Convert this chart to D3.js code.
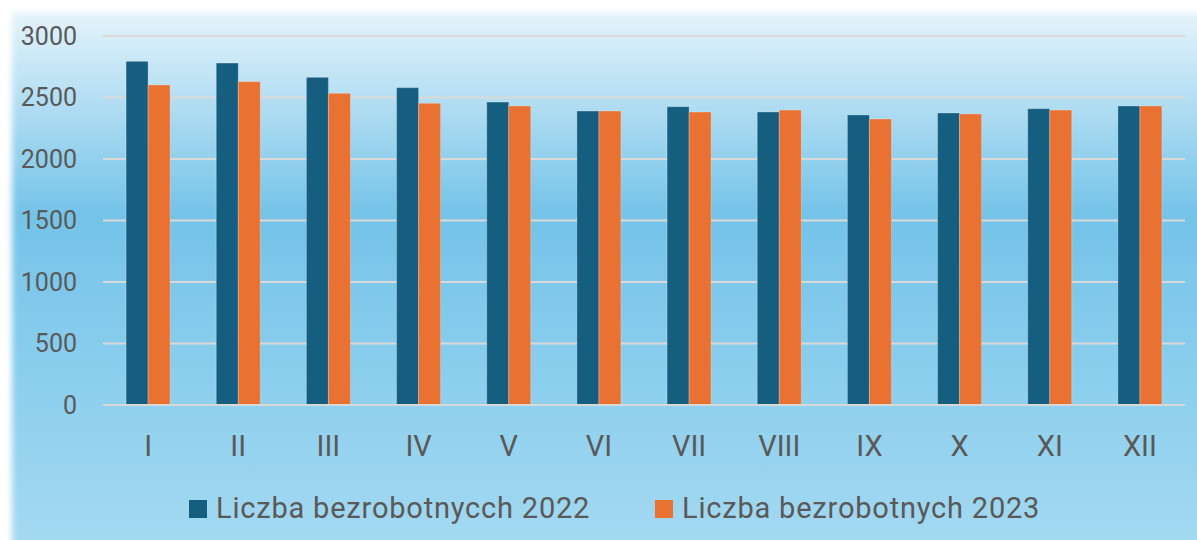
<!DOCTYPE html>
<html lang="pl">
<head>
<meta charset="UTF-8">
<title>Liczba bezrobotnych</title>
<script src="https://d3js.org/d3.v7.min.js"></script>
<style>
  body { margin: 0; background: #fff; }
  svg { display: block; font-family: Roboto, "Open Sans", sans-serif; }
</style>
</head>
<body>
<svg class="chart" width="1197" height="540"></svg>
<script>
  // dane
  const months = ['I', 'II', 'III', 'IV', 'V', 'VI', 'VII', 'VIII', 'IX', 'X', 'XI', 'XII']
  const values2022 = [2794, 2780, 2664, 2580, 2463, 2390, 2425, 2382, 2358, 2374, 2409, 2431]
  const values2023 = [2602, 2629, 2534, 2453, 2431, 2390, 2382, 2398, 2325, 2366, 2398, 2431]
  const seriesNames = ['Liczba bezrobotnycch 2022', 'Liczba bezrobotnych 2023']
  const yTicks = [0, 500, 1000, 1500, 2000, 2500, 3000]

  const svg = d3.select('.chart')
  const width = +svg.attr('width')
  const height = +svg.attr('height')
  const margin = { top: 36, right: 12, bottom: 135, left: 103 }
  const colors = ['#165e80', '#e97132']

  // tło z gradientem
  const defs = svg.append('defs')
  const grad = defs.append('linearGradient')
    .attr('id', 'bg').attr('x1', 0).attr('y1', 0).attr('x2', 0).attr('y2', 1)
  grad.append('stop').attr('offset', '0%').attr('stop-color', '#e4f3fb')
  grad.append('stop').attr('offset', '36%').attr('stop-color', '#74c3e8')
  grad.append('stop').attr('offset', '70%').attr('stop-color', '#8fd0ee')
  grad.append('stop').attr('offset', '100%').attr('stop-color', '#a9dbf2')
  defs.append('filter').attr('id', 'soft')
    .attr('x', '-5%').attr('y', '-5%').attr('width', '110%').attr('height', '110%')
    .append('feGaussianBlur').attr('stdDeviation', 3)

  svg.append('rect')
    .attr('x', 12).attr('y', 13)
    .attr('width', width + 20).attr('height', height + 20)
    .attr('fill', 'url(#bg)')
    .attr('filter', 'url(#soft)')

  const x0 = d3.scaleBand()
    .domain(months)
    .range([margin.left, width - margin.right])
    .paddingInner(0.512)
    .paddingOuter(0.256)

  const x1 = d3.scaleBand()
    .domain([0, 1])
    .range([0, x0.bandwidth()])

  const y = d3.scaleLinear()
    .domain([0, 3000])
    .range([height - margin.bottom, margin.top])

  // siatka
  svg.append('g')
    .selectAll('line')
    .data(yTicks)
    .join('line')
    .attr('x1', margin.left)
    .attr('x2', width - margin.right)
    .attr('y1', d => y(d))
    .attr('y2', d => y(d))
    .attr('stroke', '#d9d9d9')
    .attr('stroke-width', 2)

  // słupki
  const rows = months.map((m, i) => ({ month: m, vals: [values2022[i], values2023[i]] }))
  svg.append('g')
    .selectAll('g')
    .data(rows)
    .join('g')
    .attr('transform', d => `translate(${x0(d.month)},0)`)
    .selectAll('rect')
    .data(d => d.vals.map((v, k) => ({ k, v })))
    .join('rect')
    .attr('x', d => x1(d.k))
    .attr('y', d => y(d.v))
    .attr('width', x1.bandwidth())
    .attr('height', d => y(0) - y(d.v))
    .attr('fill', d => colors[d.k])
    .attr('stroke', 'rgba(255,255,255,0.25)')
    .attr('stroke-width', 1)

  // oś Y
  const yAxis = svg.append('g')
    .attr('transform', `translate(${margin.left - 26},0)`)
    .call(d3.axisLeft(y).tickValues(yTicks).tickFormat(d3.format('d')).tickSize(0).tickPadding(0))
  yAxis.select('.domain').remove()
  yAxis.selectAll('text')
    .attr('fill', '#595959')
    .attr('font-size', '25px')
    .attr('font-family', 'Roboto, sans-serif')

  // oś X
  const xAxis = svg.append('g')
    .attr('transform', `translate(0,${height - margin.bottom})`)
    .call(d3.axisBottom(x0).tickSize(0).tickPadding(30))
  xAxis.select('.domain')
    .attr('stroke', '#d9d9d9')
    .attr('stroke-width', 2)
    .attr('d', `M${margin.left},0H${width - margin.right}`)
  xAxis.selectAll('text')
    .attr('fill', '#595959')
    .attr('font-size', '29px')
    .attr('font-family', 'Roboto, sans-serif')

  // legenda
  const legendX = [189, 655]
  const legend = svg.append('g')
    .selectAll('g')
    .data(seriesNames)
    .join('g')
    .attr('transform', (d, i) => `translate(${legendX[i]},500)`)
  legend.append('rect')
    .attr('width', 18).attr('height', 18)
    .attr('fill', (d, i) => colors[i])
  legend.append('text')
    .attr('x', 27).attr('y', 8)
    .attr('dy', '0.35em')
    .attr('fill', '#595959')
    .attr('font-size', '29px')
    .attr('letter-spacing', '0.8px')
    .text(d => d)
</script>
</body>
</html>
